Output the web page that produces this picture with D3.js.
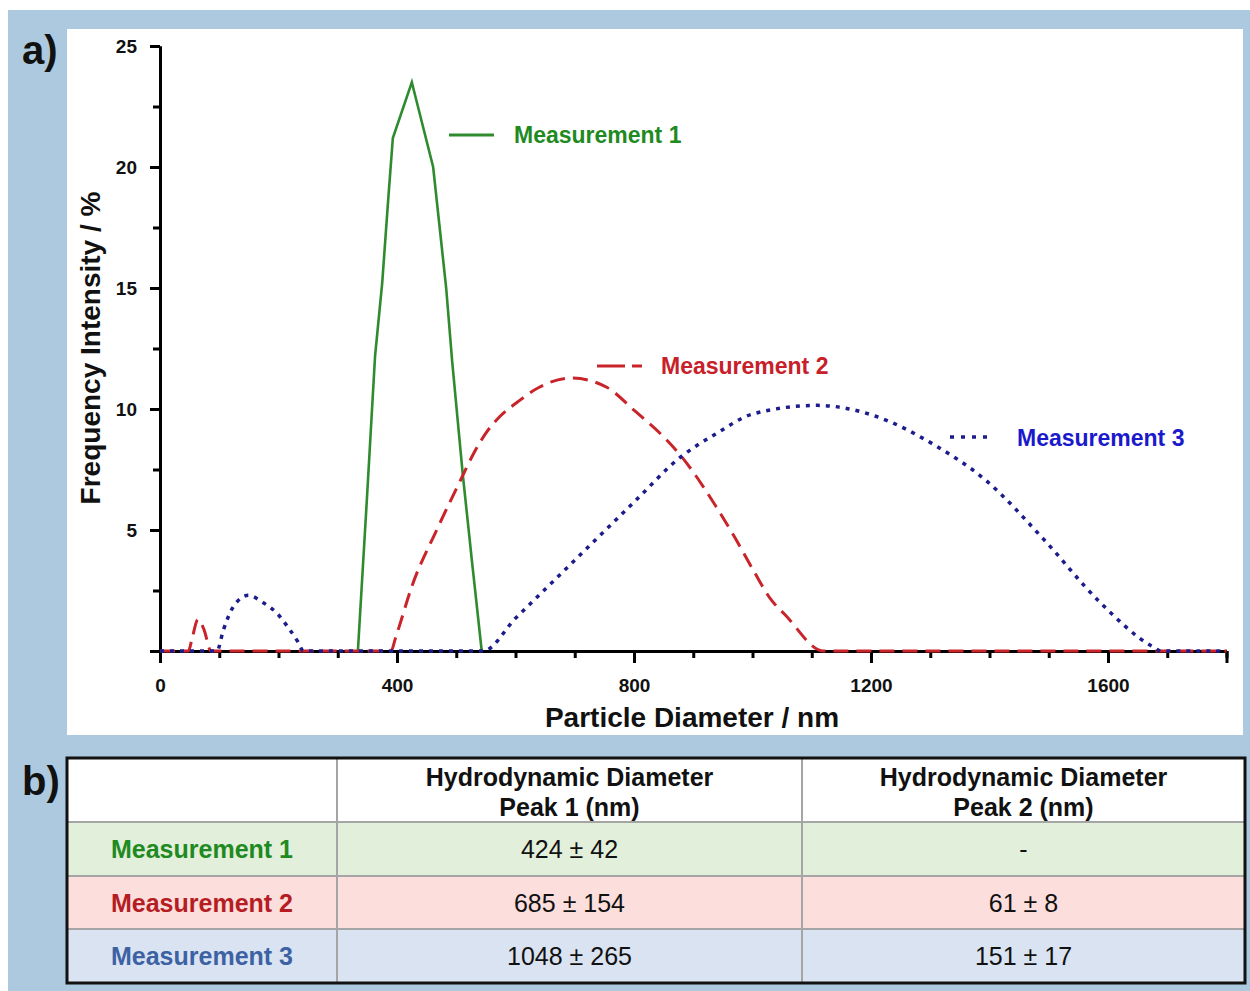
<!DOCTYPE html>
<html>
<head>
<meta charset="utf-8">
<script src="https://cdnjs.cloudflare.com/ajax/libs/d3/7.8.5/d3.min.js"></script>
<style>
  body { margin: 0; background: #fff; }
  svg { display: block; font-family: "Liberation Sans", Arial, sans-serif; }
</style>
</head>
<body>
<div id="chart"></div>
<script>
// size distribution: [diameter nm, intensity %]
const measurement1 = [[334, 0], [349, 6.2], [363, 12.2], [375, 15.2], [385, 18.6], [393, 21.2],
  [425, 23.5], [461, 20.0], [483, 15.0], [493, 12.0], [511, 7.3], [527, 3.6], [543, 0]];
const measurement2 = [[0, 0], [48, 0], [54, 0.5], [64, 1.3], [74, 0.9], [86, 0], [390, 0],
  [397, 0.5], [427, 2.8], [467, 5.0], [506, 7.0], [528, 8.1], [550, 9.0], [574, 9.7], [604, 10.3],
  [640, 10.9], [695, 11.28], [754, 10.9], [800, 9.95], [856, 8.7], [878, 8.1], [939, 5.95],
  [970, 4.7], [1001, 3.35], [1032, 2.1], [1055, 1.5], [1120, 0], [1800, 0]];
const measurement3 = [[0, 0], [96, 0], [107, 0.87], [123, 1.8], [149, 2.3], [174, 2.0], [197, 1.57],
  [217, 0.95], [233, 0.37], [242, 0], [545, 0], [600, 1.35], [700, 3.75], [800, 6.15], [878, 8.0],
  [940, 9.0], [1001, 9.8], [1109, 10.15], [1208, 9.7], [1308, 8.5], [1393, 7.07], [1492, 4.6],
  [1583, 2.1], [1676, 0.17], [1690, 0], [1800, 0]];

const xMajor = [0, 400, 800, 1200, 1600];
const yMajor = [0, 5, 10, 15, 20, 25];
const yLabels = [5, 10, 15, 20, 25];

const seriesNames = ['Measurement 1', 'Measurement 2', 'Measurement 3'];
const peak1 = ['424 \u00b1 42', '685 \u00b1 154', '1048 \u00b1 265'];
const peak2 = ['-', '61 \u00b1 8', '151 \u00b1 17'];
const headers = [['Hydrodynamic Diameter', 'Peak 1 (nm)'], ['Hydrodynamic Diameter', 'Peak 2 (nm)']];

const W = 1250, H = 991;
const svg = d3.select('#chart').append('svg')
  .attr('width', W)
  .attr('height', H);

svg.append('rect').attr('width', W).attr('height', H).attr('fill', '#fff');
svg.append('rect').attr('x', 8).attr('y', 10).attr('width', W - 8).attr('height', H - 10)
  .attr('fill', '#adc9df');
svg.append('rect').attr('x', 67).attr('y', 29).attr('width', 1176).attr('height', 706)
  .attr('fill', '#fff');

svg.append('text').attr('x', 22).attr('y', 64).text('a)')
  .style('font-size', '40px').style('font-weight', 'bold').attr('fill', '#111');
svg.append('text').attr('x', 22).attr('y', 795).text('b)')
  .style('font-size', '40px').style('font-weight', 'bold').attr('fill', '#111');

// ---- chart a) ----
const x = d3.scaleLinear().domain([0, 1800]).range([160, 1226.5]);
const y = d3.scaleLinear().domain([0, 25]).range([651, 46]);

const axes = svg.append('g').attr('class', 'axes');

// minor ticks first, then the major axis on top
axes.append('g')
  .attr('transform', `translate(0,${y(0)})`)
  .call(d3.axisBottom(x).tickValues(d3.range(0, 1801, 100)).tickSize(7).tickSizeOuter(0).tickFormat(''));
axes.append('g')
  .attr('transform', `translate(${x(0)},0)`)
  .call(d3.axisLeft(y).tickValues(d3.range(2.5, 25, 5)).tickSize(7).tickSizeOuter(0).tickFormat(''));

axes.append('g')
  .attr('transform', `translate(0,${y(0)})`)
  .call(d3.axisBottom(x).tickValues(xMajor.concat([1800])).tickSize(12).tickSizeOuter(0).tickPadding(16)
    .tickFormat(d => xMajor.includes(d) ? d : ''));
axes.append('g')
  .attr('transform', `translate(${x(0)},0)`)
  .call(d3.axisLeft(y).tickValues(yMajor).tickSize(10).tickSizeOuter(0).tickPadding(13)
    .tickFormat(d => yLabels.includes(d) ? d : ''));

axes.selectAll('.domain, .tick line').attr('stroke', '#000').attr('stroke-width', 3);
axes.selectAll('.tick text')
  .style('font-size', '19px').style('font-weight', 'bold').attr('fill', '#111')
  .style('font-family', '"Liberation Sans", Arial, sans-serif');

svg.append('text')
  .attr('x', 692).attr('y', 727).attr('text-anchor', 'middle')
  .style('font-size', '28px').style('font-weight', 'bold').attr('fill', '#111')
  .text('Particle Diameter / nm');
svg.append('text')
  .attr('transform', 'translate(100,348) rotate(-90)').attr('text-anchor', 'middle')
  .style('font-size', '28px').style('font-weight', 'bold').attr('fill', '#111')
  .text('Frequency Intensity / %');

const lineLinear = d3.line().x(d => x(d[0])).y(d => y(d[1]));
const lineSmooth = d3.line().x(d => x(d[0])).y(d => y(d[1])).curve(d3.curveMonotoneX);

const lines = [
  { data: measurement1, gen: lineLinear, color: '#2e8b2e', width: 2.6, dash: null },
  { data: measurement2, gen: lineSmooth, color: '#c8242a', width: 3, dash: '15,8' },
  { data: measurement3, gen: lineSmooth, color: '#1c1c8c', width: 3.5, dash: '4,6' }
];
svg.append('g').selectAll('path')
  .data(lines)
  .enter()
  .append('path')
  .attr('d', d => d.gen(d.data))
  .attr('fill', 'none')
  .attr('stroke', d => d.color)
  .attr('stroke-width', d => d.width)
  .attr('stroke-dasharray', d => d.dash);

// legend labels beside the curves
const legend = [
  { x1: 449, x2: 494, y: 135, tx: 514, ty: 143, color: '#2e8b2e', text: '#1f8a1f', width: 3, dash: null },
  { x1: 597, x2: 642, y: 366, tx: 661, ty: 374, color: '#c8242a', text: '#c8202a', width: 3, dash: '28,7,10,100' },
  { x1: 950, x2: 987, y: 437, tx: 1017, ty: 446, color: '#1c1c8c', text: '#1a1acc', width: 3.5, dash: '4,7' }
];
const lg = svg.append('g').selectAll('g').data(legend).enter().append('g');
lg.append('line')
  .attr('x1', d => d.x1).attr('x2', d => d.x2)
  .attr('y1', d => d.y).attr('y2', d => d.y)
  .attr('stroke', d => d.color).attr('stroke-width', d => d.width)
  .attr('stroke-dasharray', d => d.dash);
lg.append('text')
  .attr('x', d => d.tx).attr('y', d => d.ty)
  .style('font-size', '23px').style('font-weight', 'bold')
  .attr('fill', d => d.text)
  .text((d, i) => seriesNames[i]);

// ---- table b) ----
const colX = [67, 337, 802, 1245];
const rowY = [758, 822, 876, 929, 983];
const rowFill = ['#e2efda', '#fcdedd', '#dae3f2'];
const labelColor = ['#1f8a1f', '#b51d22', '#3d62a3'];

const table = svg.append('g').attr('class', 'table');
table.append('rect')
  .attr('x', colX[0]).attr('y', rowY[0])
  .attr('width', colX[3] - colX[0]).attr('height', rowY[1] - rowY[0])
  .attr('fill', '#fff');
table.selectAll('.row')
  .data(rowFill)
  .enter()
  .append('rect')
  .attr('class', 'row')
  .attr('x', colX[0]).attr('y', (d, i) => rowY[i + 1])
  .attr('width', colX[3] - colX[0]).attr('height', (d, i) => rowY[i + 2] - rowY[i + 1])
  .attr('fill', d => d);

// grid lines
[1, 2, 3].forEach(i => {
  table.append('line').attr('x1', colX[0]).attr('x2', colX[3])
    .attr('y1', rowY[i]).attr('y2', rowY[i])
    .attr('stroke', '#a5a5a5').attr('stroke-width', 2);
});
[1, 2].forEach(i => {
  table.append('line').attr('x1', colX[i]).attr('x2', colX[i])
    .attr('y1', rowY[0]).attr('y2', rowY[4])
    .attr('stroke', '#a5a5a5').attr('stroke-width', 2);
});
table.append('rect')
  .attr('x', colX[0]).attr('y', rowY[0])
  .attr('width', colX[3] - colX[0]).attr('height', rowY[4] - rowY[0])
  .attr('fill', 'none').attr('stroke', '#111').attr('stroke-width', 3);

headers.forEach((h, c) => {
  const cx = (colX[c + 1] + colX[c + 2]) / 2;
  h.forEach((line, k) => {
    table.append('text')
      .attr('x', cx).attr('y', 786 + k * 30)
      .attr('text-anchor', 'middle')
      .style('font-size', '25px').style('font-weight', 'bold').attr('fill', '#111')
      .text(line);
  });
});

seriesNames.forEach((name, r) => {
  const base = (rowY[r + 1] + rowY[r + 2]) / 2 + 9;
  table.append('text')
    .attr('x', (colX[0] + colX[1]) / 2).attr('y', base)
    .attr('text-anchor', 'middle')
    .style('font-size', '25px').style('font-weight', 'bold')
    .attr('fill', labelColor[r])
    .text(name);
  [peak1[r], peak2[r]].forEach((val, c) => {
    table.append('text')
      .attr('x', (colX[c + 1] + colX[c + 2]) / 2).attr('y', base)
      .attr('text-anchor', 'middle')
      .style('font-size', '25px').attr('fill', '#111')
      .text(val);
  });
});
</script>
</body>
</html>
